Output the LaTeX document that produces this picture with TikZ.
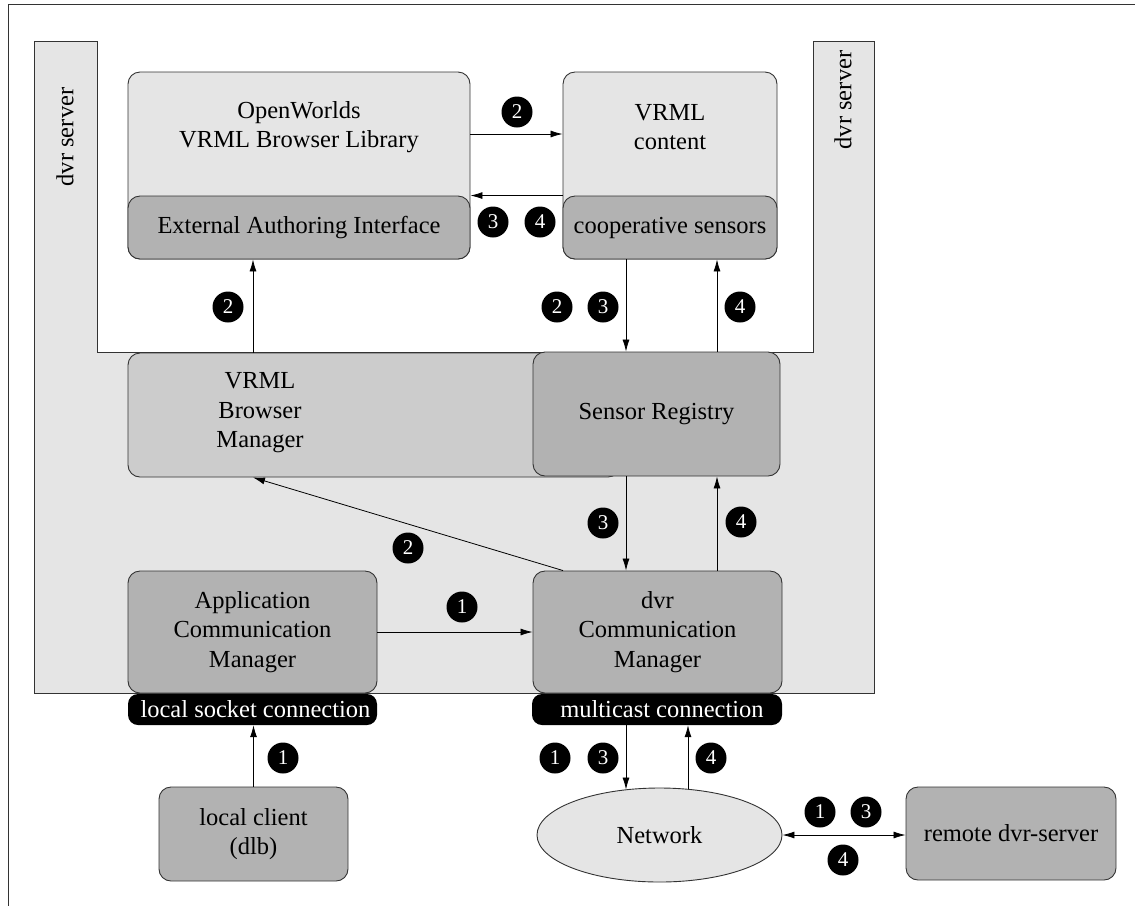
\documentclass[tikz,border=0pt]{standalone}
\usepackage{fontspec}
\setmainfont{Liberation Serif}
\usetikzlibrary{arrows.meta,shapes.geometric}
\definecolor{lightfill}{gray}{0.9}
\definecolor{midfill}{gray}{0.8}
\definecolor{darkfill}{gray}{0.7}
\definecolor{edgecol}{gray}{0.2}
\begin{document}
\begin{tikzpicture}[x=1pt,y=-1pt,
  every node/.style={inner sep=0pt, font=\fontsize{24.5}{29.5}\selectfont},
  box/.style={draw=edgecol, line width=0.9pt, rounded corners=12pt, align=center},
  port/.style={fill=black, text=white, rounded corners=10pt, minimum height=31pt},
  badge/.style={circle, fill=black, text=white, minimum size=31pt,
    font=\fontsize{21}{21}\selectfont},
  label text/.style={align=center},
  arr/.style={-{Latex[length=12pt,width=7pt]}, line width=0.8pt},
  arrboth/.style={{Latex[length=12pt,width=7pt]}-{Latex[length=12pt,width=7pt]}, line width=0.8pt}
]
\useasboundingbox (0,0) rectangle (1135,906);

% page frame
\draw[line width=1pt, edgecol] (1135,4) -- (8,4) -- (8,906);

% dvr server area
\draw[fill=lightfill, draw=edgecol, line width=0.9pt]
  (34,41) -- (97,41) -- (97,352) -- (813,352) -- (813,41) -- (874,41)
  -- (874,693) -- (34,693) -- cycle;
\node[rotate=90] (dvrl) at (65,137) {dvr server};
\node[rotate=90] (dvrr) at (843,100) {dvr server};

% browser library and VRML content
\node[box, fill=lightfill, minimum width=342pt, minimum height=187pt] (ow) at (299,165.5) {};
\node[label text] (owt) at (299,127) {OpenWorlds\\VRML Browser Library};
\node[box, fill=lightfill, minimum width=214pt, minimum height=187pt] (vc) at (670,165.5) {};
\node[label text] (vct) at (670,127) {VRML\\content};
\node[box, fill=darkfill, minimum width=342pt, minimum height=63pt] (eai) at (299,227.5) {External Authoring Interface};
\node[box, fill=darkfill, minimum width=214pt, minimum height=63pt] (cs) at (670,227.5) {cooperative sensors};

% managers and registry
\node[box, fill=midfill, minimum width=492pt, minimum height=124pt] (vbm) at (374,415) {};
\node[label text] (vbmt) at (260,413) {VRML\\Browser\\Manager};
\node[box, fill=darkfill, minimum width=247pt, minimum height=124pt] (sr) at (656.5,414) {Sensor Registry};
\node[box, fill=darkfill, minimum width=249pt, minimum height=122pt] (acm) at (252.5,632) {Application\\Communication\\Manager};
\node[box, fill=darkfill, minimum width=249pt, minimum height=122pt] (dcm) at (657.5,632) {dvr\\Communication\\Manager};

% connection ports
\node[port, minimum width=249pt] (lsc) at (252.5,709.5) {\hspace{6pt}local socket connection};
\node[port, minimum width=250pt] (mc) at (657,709.5) {\hspace{10pt}multicast connection};

% outside the server
\node[box, fill=darkfill, minimum width=189pt, minimum height=94pt] (lc) at (253.5,834) {local client\\(dlb)};
\node[ellipse, draw=edgecol, line width=0.9pt, fill=lightfill, minimum width=245pt, minimum height=94pt] (net) at (659.5,835) {Network};
\node[box, fill=darkfill, minimum width=210pt, minimum height=93pt] (rds) at (1011,833.5) {remote dvr-server};

% connectors
\draw[arr] ([yshift=31.5pt]ow.east) -- ([yshift=31.5pt]ow.east -| vc.west);
\draw[arr] (cs.north -| vc.west) -- (eai.north -| ow.east);
\draw[arr] ([xshift=-46pt]eai.south |- vbm.north) -- ([xshift=-46pt]eai.south);
\draw[arr] ([xshift=-44pt]cs.south) -- ([xshift=-44pt]cs.south |- sr.north);
\draw[arr] ([xshift=47pt]cs.south |- sr.north) -- ([xshift=47pt]cs.south);
\draw[arr] ([xshift=-30.5pt]sr.south) -- ([xshift=-30.5pt]sr.south |- dcm.north);
\draw[arr] ([xshift=60.5pt]sr.south |- dcm.north) -- ([xshift=60.5pt]sr.south);
\draw[arr] ([xshift=-94.5pt]dcm.north) -- ([xshift=-46pt]eai.south |- vbm.south);
\draw[arr] (acm.east) -- (dcm.west);
\draw[arr] (lc.north) -- (lc.north |- lsc.south);
\draw[arr] ([xshift=-31pt]mc.south) -- ([xshift=-31pt,yshift=-2pt]mc.south |- net.north);
\draw[arr] ([xshift=31pt,yshift=-1.5pt]mc.south |- net.north) -- ([xshift=31pt]mc.south);
\draw[arrboth] (net.east) -- (net.east -| rds.west);

% step numbers
\node[badge] (b1) at (517,112) {2};
\node[badge] (b2) at (493,222) {3};
\node[badge] (b3) at (540,222) {4};
\node[badge] (b4) at (228,307) {2};
\node[badge] (b5) at (557,307) {2};
\node[badge] (b6) at (603,307) {3};
\node[badge] (b7) at (740,307) {4};
\node[badge] (b8) at (408,548) {2};
\node[badge] (b9) at (603,523) {3};
\node[badge] (b10) at (741,522) {4};
\node[badge] (b11) at (462,607) {1};
\node[badge] (b12) at (283,758) {1};
\node[badge] (b13) at (555,758) {1};
\node[badge] (b14) at (603,758) {3};
\node[badge] (b15) at (711,758) {4};
\node[badge] (b16) at (820,812) {1};
\node[badge] (b17) at (866,812) {3};
\node[badge] (b18) at (843,860) {4};
\end{tikzpicture}
\end{document}
